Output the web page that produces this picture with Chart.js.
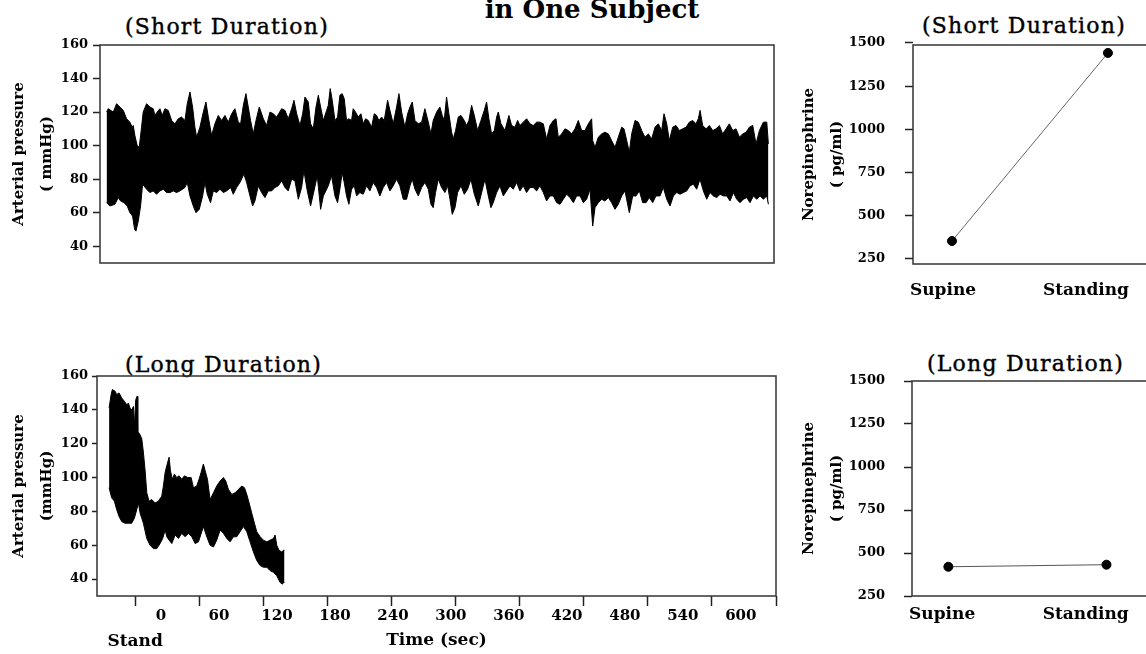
<!DOCTYPE html>
<html>
<head>
<meta charset="utf-8">
<script src="https://cdn.jsdelivr.net/npm/chart.js"></script>
<style>
  html, body { margin: 0; padding: 0; background: #fff; }
  #pagina { position: relative; width: 1146px; height: 654px; overflow: hidden; background: #fff; }
  canvas { position: absolute; }
  .titulo { position: absolute; font-family: "DejaVu Serif", serif; font-size: 22px; line-height: 22px; letter-spacing: 1.2px; color: #000; white-space: nowrap; -webkit-text-stroke: 0.4px #000; }
  #principal { font-weight: bold; font-size: 26px; line-height: 26px; letter-spacing: 0; transform: translateX(-50%); -webkit-text-stroke: 0; }
</style>
</head>
<body>
<div id="pagina">
  <div id="principal" class="titulo" style="left:592px; top:-4px;">in One Subject</div>
  <div class="titulo" style="left:125px; top:16px;">(Short Duration)</div>
  <div class="titulo" style="left:922px; top:15px;">(Short Duration)</div>
  <div class="titulo" style="left:125px; top:354px;">(Long Duration)</div>
  <div class="titulo" style="left:927px; top:353px;">(Long Duration)</div>

  <canvas id="pressaoCurta" width="780" height="233" style="left:0; top:35px;"></canvas>
  <canvas id="noraCurtaGraf" width="356" height="270" style="left:790px; top:35px;"></canvas>
  <canvas id="pressaoLonga" width="782" height="288" style="left:0; top:366px;"></canvas>
  <canvas id="noraLongaGraf" width="356" height="283" style="left:790px; top:371px;"></canvas>
</div>

<script>
// Pressão arterial (envelope superior / inferior) - [tempo (s), mmHg]
const curtaSuperior = [
  [-56.3,120],[-54.6,122],[-49.4,120],[-45.9,125],[-42.5,123],[-39.0,121],[-35.6,116],[-32.2,114],[-29.7,111],[-28.7,112],
  [-27.0,106],[-24.6,100],[-22.5,99],[-20.1,111],[-18.4,120],[-14.9,125],[-11.5,123],[-8.0,122],[-6.3,118],[-3.9,120],
  [-1.1,122],[1.3,118],[4.1,122],[7.5,121],[11.0,115],[14.4,113],[17.9,116],[21.3,117],[24.8,115],[27.2,125],
  [30.0,132],[32.7,123],[35.1,111],[36.9,105],[40.3,111],[43.8,120],[46.5,126],[49.0,117],[52.4,106],[55.8,113],
  [59.3,118],[62.7,115],[66.2,118],[69.6,114],[73.1,119],[76.5,122],[80.0,114],[82.4,113],[85.2,124],[87.9,131],
  [90.3,123],[92.7,115],[95.5,107],[98.3,115],[101.7,123],[105.9,116],[109.3,112],[112.8,120],[116.2,119],[119.7,117],
  [124.8,122],[128.3,121],[131.7,116],[135.2,122],[137.6,127],[140.4,119],[143.8,112],[146.6,119],[149.0,129],[152.4,126],
  [154.8,113],[157.6,110],[160.4,123],[162.8,130],[165.2,123],[168.0,115],[171.4,121],
  [173.1,124],[175.1,134],[177.2,127],[180.0,115],[182.7,117],[185.1,130],[187.5,131],[189.6,128],[192.0,115],[194.4,116],
  [197.2,115],[198.9,122],[201.3,120],[204.1,117],[206.9,119],[209.3,113],[211.7,116],[214.5,115],[217.9,111],[220.7,119],
  [223.1,118],[225.5,115],[228.3,117],[231.0,115],[234.5,127],[236.9,121],[240.3,113],[243.8,123],[246.2,131],[249.0,120],
  [252.4,111],[255.2,119],[257.6,123],[260.0,126],[262.8,115],[266.2,113],[269.7,114],[273.1,122],[276.6,114],[279.3,107],
  [281.7,115],[285.2,120],[288.6,123],[291.0,118],[293.1,115],[295.5,129],[297.9,119],[300.7,108],[302.4,104],[304.8,109],
  [307.6,117],[310.4,118],[313.8,115],[316.2,112],[318.6,115],[321.4,124],[324.2,118],[327.6,109],[331.1,115],[334.5,121],
  [336.9,126],[339.3,116],[342.1,107],[344.9,109],[347.3,117],[349.0,120],[351.8,113],[355.9,109],[360.0,118],[362.8,112],
  [366.3,111],[369.0,115],[371.4,112],[374.9,114],[378.3,116],[381.8,113],[385.2,112],[388.7,114],[392.1,114],[395.6,113],
  [399.0,104],[402.5,112],
  [406.0,115],[408.7,116],[411.1,105],[414.6,107],[418.0,110],[421.5,109],[424.9,107],[428.4,110],[431.8,115],[435.3,109],
  [438.7,109],[442.2,113],[445.6,116],[446.7,103],[449.1,99],[452.5,105],[456.0,107],[459.4,108],[462.9,107],[466.3,103],
  [469.8,99],[473.2,105],[476.7,111],[479.1,110],[481.9,103],[484.6,96],[487.0,107],[490.5,115],[493.9,114],[497.4,109],
  [500.8,105],[504.3,107],[507.7,104],[511.2,111],[514.6,113],[518.1,109],[520.5,119],[523.3,113],[526.0,103],[529.5,111],
  [532.9,112],[536.4,109],[539.8,110],[543.3,111],[546.7,114],[550.2,115],[553.6,113],[556.0,116],[557.8,121],[560.5,112],
  [564.0,110],[567.4,112],[570.9,109],[574.3,110],[577.8,112],[581.2,107],[584.7,110],[588.1,113],[591.6,109],[595.0,110],
  [598.5,105],[601.9,107],[605.4,108],[608.8,111],[612.3,112],[615.7,101],[619.2,109],[623.3,114],[626.8,114],[628.5,101]
];

const curtaInferior = [
  [-56.3,66],[-52.9,64],[-47.7,65],[-44.2,69],[-41.8,67],[-38.4,66],[-34.9,64],[-32.2,60],[-29.4,58],[-27.3,50],
  [-25.9,49],[-23.5,55],[-21.1,64],[-19.0,77],[-14.9,74],[-11.5,72],[-8.0,73],[-4.6,71],[-1.1,73],[2.4,74],
  [5.8,72],[9.3,72],[12.7,73],[16.2,72],[19.6,73],[24.8,75],[27.2,78],[30.0,70],[33.4,64],[36.2,60],
  [39.6,62],[43.1,70],[45.5,78],[47.9,71],[51.3,66],[54.1,73],[57.6,72],[61.0,74],[64.5,72],[67.9,73],
  [72.0,75],[74.8,71],[78.3,75],[81.7,78],[85.8,83],[88.6,78],[92.1,70],[94.8,64],[97.2,67],[100.7,76],
  [104.1,72],[107.6,69],[111.0,73],[114.5,73],[117.9,75],[121.4,76],[124.8,79],[128.3,75],[131.7,73],[135.2,80],
  [138.6,79],[142.1,68],[145.5,75],[147.9,85],[151.4,73],[154.8,64],[158.3,73],[161.7,82],[165.2,62],[168.0,70],
  [173.1,76],[176.5,82],[180.0,70],[182.7,66],[185.1,74],[187.5,84],[189.6,78],[192.0,70],[194.4,65],[197.2,74],
  [200.0,76],[202.4,70],[205.8,72],[209.3,71],[212.7,76],[216.2,73],[219.6,78],[223.1,75],[226.5,70],[230.0,75],
  [233.4,78],[236.9,73],[240.3,76],[243.8,80],[247.2,76],[250.7,68],[254.1,68],[257.6,76],[260.0,80],[262.8,74],
  [266.2,70],[269.7,75],[273.1,78],[276.6,74],[279.3,65],[281.7,63],[284.1,72],[286.9,80],[290.4,75],[293.8,72],
  [296.6,76],[299.0,68],[301.4,59],[304.2,63],[306.9,72],[310.4,76],[313.8,71],[317.3,74],[320.7,80],[324.2,71],
  [328.3,64],[331.8,72],[335.2,80],[338.7,70],[341.4,63],[343.8,66],[347.3,72],[350.7,76],[354.2,70],[357.6,73],
  [361.1,76],[364.5,74],[368.0,78],[371.4,73],[374.9,76],[378.3,72],[381.8,75],[385.2,75],[388.7,73],[392.1,76],
  [395.6,72],[399.0,67],[402.5,70],
  [406.0,70],[409.4,66],[412.9,65],[416.3,68],[419.8,71],[423.2,69],[426.7,66],[430.1,70],[433.6,70],[437.0,66],
  [440.5,68],[443.9,74],[446.7,52],[449.1,63],[452.5,66],[456.0,68],[459.4,67],[462.9,69],[466.3,66],[469.8,62],
  [473.2,65],[476.7,70],[480.1,73],[484.6,60],[488.1,70],[491.5,70],[495.0,73],[498.4,66],[501.9,66],[505.3,69],
  [508.8,66],[512.2,70],[516.4,70],[519.8,75],[523.3,68],[526.7,64],[530.2,70],[533.6,72],[537.1,71],[540.5,72],
  [544.0,73],[547.4,76],[550.9,77],[554.3,74],[557.8,80],[561.2,73],[564.7,68],[568.1,72],[571.6,70],[575.0,69],
  [578.5,71],[581.9,70],[585.4,70],[588.8,67],[592.3,72],[595.7,68],[599.2,66],[602.6,68],[606.1,69],[609.5,66],
  [613.0,70],[616.4,68],[619.9,70],[623.3,68],[626.8,70],[628.5,65]
];

const longaSuperior = [
  [-53.7,141],[-51.6,149],[-50.3,152],[-47.5,151],[-45.8,149],[-43.4,150],[-40.6,147],[-37.8,145],[-35.4,143],[-33.7,144],
  [-32.0,141],[-30.3,140],[-28.5,142],[-27.5,131],[-26.1,146],[-24.7,148],[-24.0,127],[-22.3,126],[-19.9,123],[-18.2,115],
  [-16.4,104],[-14.7,91],[-12.3,86],[-9.6,87],[-6.1,85],[-2.7,86],[0.8,89],[2.5,95],[4.3,103],[6.0,107],
  [8.4,112],[9.8,104],[11.8,99],[13.9,102],[16.3,100],[18.7,101],[21.5,99],[24.3,101],[27.7,100],[31.2,100],
  [33.6,94],[37.0,95],[39.4,99],[41.5,103],[43.9,108],[45.7,104],[48.1,99],[50.8,87],[54.3,91],[57.7,95],
  [61.2,98],[64.6,100],[67.0,98],[69.8,93],[73.3,90],[76.7,91],[80.2,93],[83.6,95],[86.4,94],[88.8,90],
  [91.2,85],[93.9,79],[96.7,73],[99.1,68],[102.6,65],[106.0,63],[109.5,62],[112.9,63],[116.4,64],[118.1,66],
  [119.8,60],[122.2,57],[125.0,56],[126.7,57],[127.8,57]
];

const longaInferior = [
  [-53.7,94],[-51.0,88],[-48.2,86],[-45.8,81],[-43.4,77],[-40.6,74],[-37.2,73],[-33.7,73],[-30.3,73],[-27.5,76],
  [-25.1,81],[-23.4,85],[-21.6,79],[-18.2,73],[-14.7,64],[-11.3,60],[-7.8,58],[-4.4,58],[-0.9,61],[1.8,64],
  [4.3,69],[6.0,65],[8.4,63],[11.2,61],[14.6,66],[18.1,64],[21.5,67],[25.0,65],[28.4,67],[31.9,65],
  [35.3,61],[38.8,62],[42.2,68],[43.9,71],[47.4,65],[50.8,60],[54.3,59],[57.7,63],[61.2,69],[64.6,67],
  [68.1,64],[71.5,62],[75.0,65],[78.4,65],[81.9,68],[85.3,71],[88.8,68],[92.2,62],[95.7,56],[99.1,51],
  [102.6,48],[106.0,47],[109.5,47],[112.9,45],[116.4,44],[119.8,42],[123.3,38],[125.7,37],[126.7,38],[127.8,38]
];

// Noradrenalina (pg/ml)
const posicoes = ['Supine', 'Standing'];
const noraCurta = [354, 1442];
const noraLonga = [420, 432];

// Ticks dos eixos
const ticksPressao = [40, 60, 80, 100, 120, 140, 160];
const ticksNora = [250, 500, 750, 1000, 1250, 1500];
const ticksTempo = [0, 60, 120, 180, 240, 300, 360, 420, 480, 540, 600];
const marcasTempo = [0, 1, 2, 3, 4, 5, 6, 7, 8, 9, 10];
const tempoStand = -26.8; // onde fica o rótulo "Stand"
const rotuloStand = 'Stand';

const fonteTick = { family: 'DejaVu Serif', weight: 'bold', size: 13 };
const fonteEixo = { family: 'DejaVu Serif', weight: 'bold', size: 15, lineHeight: 1.867 };
const fonteRotulo = { family: 'DejaVu Serif', weight: 'bold', size: 17 };

// Moldura em volta da área do gráfico
const moldura = {
  id: 'moldura',
  afterDatasetsDraw(chart, args, opts) {
    const a = chart.chartArea;
    const ctx = chart.ctx;
    ctx.save();
    ctx.strokeStyle = '#333';
    ctx.lineWidth = 1.5;
    ctx.beginPath();
    if (opts.semDireita) {
      ctx.moveTo(a.right, a.top);
      ctx.lineTo(a.left, a.top);
      ctx.lineTo(a.left, a.bottom);
      ctx.lineTo(a.right, a.bottom);
    } else {
      ctx.rect(a.left, a.top, a.right - a.left, a.bottom - a.top);
    }
    ctx.stroke();
    ctx.restore();
  }
};

function pontos(lista) {
  return lista.map(p => ({ x: p[0], y: p[1] }));
}

function envelope(sup, inf) {
  return [
    { data: pontos(sup), xAxisID: 'x', yAxisID: 'y', borderColor: '#000', backgroundColor: '#000', borderWidth: 1, pointRadius: 0, fill: '+1', tension: 0 },
    { data: pontos(inf), xAxisID: 'x', yAxisID: 'y', borderColor: '#000', backgroundColor: '#000', borderWidth: 1, pointRadius: 0, fill: false, tension: 0 }
  ];
}

// tira o espaço extra que o Chart.js reserva para os rótulos
function semMargem(s) {
  s.paddingTop = 0;
  s.paddingBottom = 0;
  s.paddingLeft = 0;
  s.paddingRight = 0;
}

function eixoPressao(largura, marca, espaco, titulo) {
  return {
    min: 30, max: 160,
    afterBuildTicks: s => { s.ticks = ticksPressao.map(v => ({ value: v })); },
    afterFit: s => { s.width = largura; semMargem(s); },
    grid: { drawOnChartArea: false, tickLength: marca, tickColor: '#222', tickWidth: 1.5 },
    border: { display: false },
    ticks: { padding: espaco, color: '#000', font: fonteTick, callback: v => String(v) },
    title: { display: true, text: titulo, color: '#000', font: fonteEixo, padding: { top: 5, bottom: 0 } }
  };
}

function eixoNora(largura, min, max, titulo, espaco) {
  return {
    min: min, max: max,
    afterBuildTicks: s => { s.ticks = ticksNora.map(v => ({ value: v })); },
    afterFit: s => { s.width = largura; semMargem(s); },
    grid: { drawOnChartArea: false, tickLength: 8, tickColor: '#222', tickWidth: 1.5 },
    border: { display: false },
    ticks: { padding: espaco, color: '#000', font: fonteTick, callback: v => String(v) },
    title: { display: true, text: titulo, color: '#000', font: fonteEixo, padding: { top: 5, bottom: 0 } }
  };
}

function eixoPosicao(altura, espaco) {
  return {
    type: 'linear', position: 'bottom', min: -0.21, max: 1.42,
    afterBuildTicks: s => { s.ticks = posicoes.map((p, i) => ({ value: i })); },
    afterFit: s => { s.height = altura; semMargem(s); },
    grid: { display: false, drawTicks: false },
    border: { display: false },
    ticks: { padding: espaco, autoSkip: false, maxRotation: 0, color: '#000', font: fonteRotulo, callback: v => posicoes[v] }
  };
}

const base = {
  responsive: false,
  animation: false,
  devicePixelRatio: 1,
  events: []
};

// Painel 1 - pressão, curta duração
new Chart(document.getElementById('pressaoCurta'), {
  type: 'line',
  data: { datasets: envelope(curtaSuperior, curtaInferior) },
  plugins: [moldura],
  options: Object.assign({}, base, {
    layout: { autoPadding: false, padding: { top: 10, right: 6, bottom: 5, left: 0 } },
    plugins: { legend: { display: false }, tooltip: { enabled: false }, moldura: {} },
    scales: {
      x: { type: 'linear', display: false, min: -63.1, max: 634.3 },
      y: eixoPressao(100, 7, 5, ['Arterial pressure', '( mmHg)'])
    }
  })
});

// Painel 2 - noradrenalina, curta duração
new Chart(document.getElementById('noraCurtaGraf'), {
  type: 'line',
  data: { datasets: [{
    data: noraCurta.map((v, i) => ({ x: i, y: v })),
    borderColor: '#666', borderWidth: 1, pointRadius: 4.5,
    pointBackgroundColor: '#000', pointBorderColor: '#000', xAxisID: 'x', yAxisID: 'y'
  }] },
  plugins: [moldura],
  options: Object.assign({}, base, {
    layout: { autoPadding: false, padding: { top: 10, right: 0, bottom: 0, left: 0 } },
    plugins: { legend: { display: false }, tooltip: { enabled: false }, moldura: { semDireita: true } },
    scales: {
      x: { type: 'linear', display: false, min: -0.25, max: 1.244 },
      xl: eixoPosicao(41, 16),
      y: eixoNora(123, 221, 1488, ['Norepinephrine', '( pg/ml)'], 20)
    }
  })
});

// Painel 3 - pressão, longa duração
new Chart(document.getElementById('pressaoLonga'), {
  type: 'line',
  data: { datasets: envelope(longaSuperior, longaInferior) },
  plugins: [moldura],
  options: Object.assign({}, base, {
    layout: { autoPadding: false, padding: { top: 10, right: 6, bottom: 0, left: 0 } },
    plugins: { legend: { display: false }, tooltip: { enabled: false }, moldura: {} },
    scales: {
      x: {
        type: 'linear', position: 'bottom', weight: 1, min: -66.2, max: 636.4,
        afterBuildTicks: s => { s.ticks = [tempoStand].concat(ticksTempo).map(v => ({ value: v })); },
        afterFit: s => { s.height = 48; semMargem(s); },
        grid: { display: false, drawTicks: false },
        border: { display: false },
        ticks: {
          padding: 1, autoSkip: false, maxRotation: 0, color: '#000',
          font: c => (c.tick && c.tick.value === tempoStand)
            ? { family: 'DejaVu Serif', weight: 'bold', size: 17, lineHeight: 1.35 }
            : { family: 'DejaVu Serif', weight: 'bold', size: 15 },
          callback: v => v === tempoStand ? ['', rotuloStand] : String(v)
        },
        title: { display: true, text: 'Time (sec)', color: '#000', font: fonteRotulo, padding: { top: 0, bottom: 3 } }
      },
      marcas: {
        type: 'linear', position: 'bottom', weight: 0, min: -0.593, max: 10,
        afterBuildTicks: s => { s.ticks = marcasTempo.map(v => ({ value: v })); },
        afterFit: s => { s.height = 10; semMargem(s); },
        grid: { drawOnChartArea: false, tickLength: 10, tickColor: '#222', tickWidth: 1.5 },
        border: { display: false },
        ticks: { display: false }
      },
      y: eixoPressao(97, 5, 4, ['Arterial pressure', '(mmHg)'])
    }
  })
});

// Painel 4 - noradrenalina, longa duração
new Chart(document.getElementById('noraLongaGraf'), {
  type: 'line',
  data: { datasets: [{
    data: noraLonga.map((v, i) => ({ x: i, y: v })),
    borderColor: '#555', borderWidth: 1, pointRadius: 4.5,
    pointBackgroundColor: '#000', pointBorderColor: '#000', xAxisID: 'x', yAxisID: 'y'
  }] },
  plugins: [moldura],
  options: Object.assign({}, base, {
    layout: { autoPadding: false, padding: { top: 10, right: 0, bottom: 0, left: 0 } },
    plugins: { legend: { display: false }, tooltip: { enabled: false }, moldura: { semDireita: true } },
    scales: {
      x: { type: 'linear', display: false, min: -0.23, max: 1.25 },
      xl: eixoPosicao(58, 8),
      y: eixoNora(122, 250, 1500, ['Norepinephrine', '( pg/ml)'], 19)
    }
  })
});
</script>
</body>
</html>
